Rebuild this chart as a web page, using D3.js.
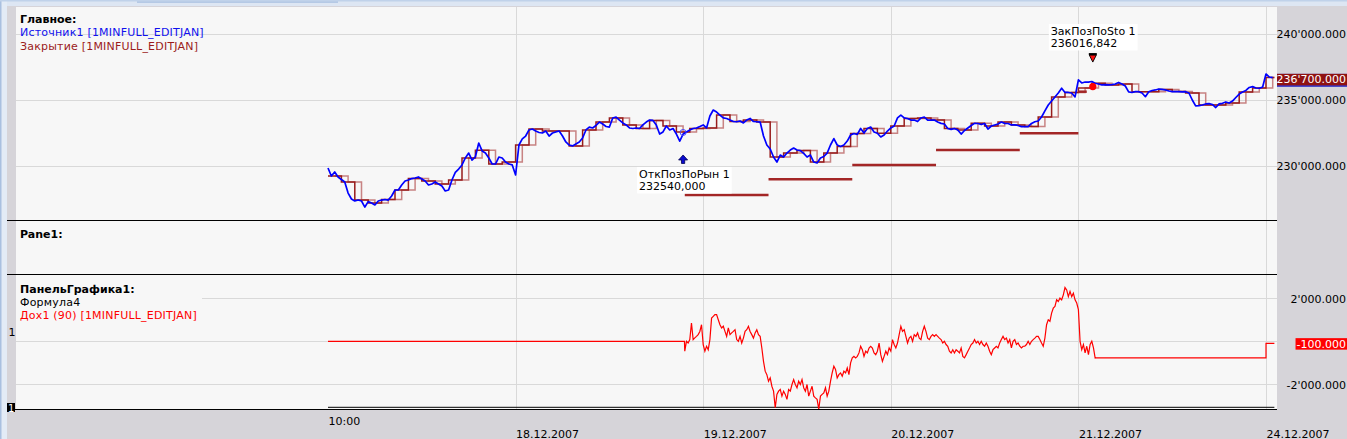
<!DOCTYPE html>
<html>
<head>
<meta charset="utf-8">
<script src="https://cdn.jsdelivr.net/npm/d3@7"></script>
<style>
body{margin:0;background:#d6d4d9;overflow:hidden}
svg{display:block;font-family:"DejaVu Sans",Verdana,sans-serif;font-size:11px}
</style>
</head>
<body>
<div id="chart"></div>
<script>
// ---- data (15-minute bars, 56 per session day, first bar 17.12.2007 10:00) ----
const barsPerDay = 56;
const dayTicks = [56, 112, 168, 224, 280];
const dayLabels = ["18.12.2007", "19.12.2007", "20.12.2007", "21.12.2007", "24.12.2007"];
const firstLabel = "10:00";

// Источник1
const source = [
229850,229240,229550,229170,228980,228790,227950,227500,227350,227420,
227350,226890,227300,227200,227050,227350,227420,227460,227420,227730,
228180,228180,228560,228860,228940,229050,229090,229170,229020,228860,
228560,228640,228790,228640,228480,228110,228180,228940,229510,229770,
230080,230610,230980,230450,230700,231740,231140,230980,230610,230150,
230150,230680,230610,230300,230150,230080,229320,231590,232050,232270,
232730,232800,232650,232540,232500,232650,232270,232500,232580,232650,
232270,231820,231590,231520,231670,231820,232120,232730,232950,232880,
233070,233330,233180,232990,232950,233640,233710,233480,233260,233110,
232880,232840,232880,232840,233110,233330,233480,233450,233110,232420,
232580,233030,232730,232840,232420,231890,232420,232580,232730,232840,
232880,232990,233110,232880,233790,234240,234090,233860,233640,233600,
233480,233370,233350,233410,233260,233480,233600,233370,233350,233330,
232270,231590,231290,230680,230300,230830,230680,230980,231210,231360,
231210,231170,230950,230680,230830,230300,230230,230610,230720,230980,
231590,232080,231590,231480,231590,231890,232350,232460,232390,232840,
232500,232840,232950,232580,232480,232200,232350,232650,232880,233030,
233640,233860,233640,233600,233480,233480,233370,233640,233710,233480,
233480,233480,233330,233230,233180,232840,232770,232840,232730,232420,
232690,232880,233070,233230,233220,233140,233220,232800,233030,233110,
233180,233330,233230,233220,233110,233110,233070,232980,232980,232990,
233220,233350,233410,233710,234170,234620,234920,235230,235530,235890,
235570,235570,235530,235230,236520,236290,236360,236360,236400,236270,
236210,236140,236170,236140,236170,236210,236330,236210,236060,235610,
235570,235630,235630,235530,235250,235630,235720,235760,235830,235800,
235760,235680,235630,235640,235630,235610,235630,235530,235000,234550,
234580,234620,234700,234730,234660,234430,234700,234750,234850,234770,
234920,235190,235450,235610,235720,235950,236010,235910,235890,235980,
236970,236740,236700];

// Закрытие, one value per hour (4 bars)
const closeHourly = [
229240,228790,227420,227200,227460,228180,229050,228860,228640,228940,
230610,231200,230150,230300,231590,232800,232650,232650,231520,232730,
233330,233640,233110,232840,233450,233030,232580,232840,232880,233860,
233370,233480,233330,230680,230980,231170,230300,230980,231480,232460,
232840,232480,233030,233600,233640,233480,232840,232730,233230,233030,
233330,233110,232990,233710,235230,235570,235900,236270,236140,236210,
235630,235630,235800,235640,235530,234620,234620,234770,235610,235910,
236700];
const barsPerClose = 4;

// stop levels
const stopFrom  = [106.5, 131.5, 156.5, 181.5, 206.5, 224];
const stopTo    = [131.5, 156.5, 181.5, 206.5, 224, 226.5];
const stopLevel = [227800, 229000, 230080, 231210, 232480, 235630];

// trades
const tradeNames = ["ОткПозПоРын 1", "ЗакПозПоSto 1"];
const tradeBar   = [106, 228.3];
const tradePrice = [232540, 236016.842];

// Дох1 (90): flat before entry, detailed half-bar samples, flat after exit
const pnlBefore = 0;
const pnlDetailFrom = 106.5;
const pnlDetailStep = 0.5;
const pnlDetail = [
-460,0,-80,80,850,80,160,230,310,460,
770,-150,-460,-230,-390,80,1080,1160,1240,1240,
1000,770,620,700,460,230,620,310,390,460,
540,80,0,230,-80,150,460,540,700,460,
310,150,390,540,310,230,-310,-930,-1390,-1550,
-1860,-1700,-2090,-2320,-3090,-2470,-2320,-2240,-2550,-2320,
-2470,-2700,-2240,-2320,-2010,-1780,-2010,-2160,-1860,-2010,
-1780,-2160,-2320,-2010,-2550,-2320,-2090,-2550,-2630,-2700,
-3150,-2550,-2470,-2400,-2160,-2550,-2320,-1860,-1470,-1160,
-1310,-1700,-1550,-1470,-1620,-1390,-1470,-1240,-1550,-1000,
-770,-700,-770,-700,-540,-230,-390,-700,-460,-540,
-310,-230,-310,-540,-620,-460,-80,-620,-930,-700,
-460,-620,-310,-460,80,-150,-310,-80,310,700,
460,540,230,-80,150,230,0,310,230,390,
150,80,460,700,460,150,80,230,310,230,
310,230,150,80,-80,0,-150,-230,-460,-540,
-390,-540,-390,-460,-540,-310,-700,-770,-620,-460,
-310,-150,-80,80,-80,0,-150,0,-150,-230,
-80,-230,-460,-620,-390,-310,-230,-310,-80,80,
230,80,150,-80,80,-310,0,80,-150,-80,
-230,-310,-230,-230,-150,0,-150,0,80,150,
230,230,80,-80,-230,150,770,1000,930,1310,
1540,1620,1930,1850,2010,1930,2160,2500,2390,2080,
2320,2080,2240,1930,1780,1470,0,-390,-150,-540,
-230,-620,-150,0,-310,-780];
const pnlAfterExit = -770;
const pnlLastBar = 280;
const pnlLast = -100;
const lastBar = 282.5;

// Формула4
const formula4 = -3070;

const priceTicks = [230000, 235000, 240000];
const pnlTicks = [-2000, 2000];
const pnlGrid = [-2000, 0, 2000];

// ---- layout ----
const W = 1347, H = 439;
const plotL = 16, plotR = 1277;
const mainTop = 7, mainBot = 220, pane1Top = 221, pane1Bot = 274, subTop = 275, subBot = 409;

const fmtAxis = d3.formatLocale({decimal: ".", thousands: "'", grouping: [3], currency: ["", ""], minus: "-"}).format(",.3f");
const fmtTrade = d3.formatLocale({decimal: ",", thousands: "", grouping: [3], currency: ["", ""], minus: "-"}).format(".3f");

const x = d3.scaleLinear().domain([0, 5 * barsPerDay]).range([328, 1266]);
const yMain = d3.scaleLinear().domain([225909, 242045]).range([mainBot, mainTop]);
const yPnl = d3.scaleLinear().domain([-3149, 3084]).range([subBot, subTop]);

const svg = d3.select("#chart").append("svg")
  .attr("width", W)
  .attr("height", H);

// window frame
svg.append("rect").attr("width", W).attr("height", H).attr("fill", "#d6d4d9");
svg.append("rect").attr("width", W).attr("height", 6).attr("fill", "#dde6f3");
svg.append("rect").attr("x", 137).attr("width", 201).attr("height", 3).attr("fill", "#b5c9e5");
svg.append("rect").attr("width", 7).attr("height", H).attr("fill", "#e3ebf6");
svg.append("rect").attr("width", 1.5).attr("height", H).attr("fill", "#a9c0e0");
svg.append("rect").attr("width", W).attr("height", 1.5).attr("fill", "#c0d2ea");

// pane backgrounds
[[mainTop, mainBot], [pane1Top, pane1Bot], [subTop, subBot]].forEach(function(p){
  svg.append("rect")
    .attr("x", plotL).attr("y", p[0])
    .attr("width", plotR - plotL).attr("height", p[1] - p[0])
    .attr("fill", "#f7f7f7");
});

// grid
const grid = svg.append("g").attr("stroke", "#d9d9d9").attr("stroke-width", 1);
grid.selectAll(".gv").data(dayTicks).enter().append("line")
  .attr("x1", d => Math.round(x(d)) + 0.5).attr("x2", d => Math.round(x(d)) + 0.5)
  .attr("y1", mainTop).attr("y2", subBot);
grid.selectAll(".gm").data(priceTicks).enter().append("line")
  .attr("x1", plotL).attr("x2", plotR)
  .attr("y1", d => Math.round(yMain(d)) + 0.5).attr("y2", d => Math.round(yMain(d)) + 0.5);
grid.selectAll(".gp").data(pnlGrid).enter().append("line")
  .attr("x1", plotL).attr("x2", plotR)
  .attr("y1", d => Math.round(yPnl(d)) + 0.5).attr("y2", d => Math.round(yPnl(d)) + 0.5);

// clips
const defs = svg.append("defs");
defs.append("clipPath").attr("id", "clipMain").append("rect")
  .attr("x", plotL).attr("y", mainTop).attr("width", plotR - plotL).attr("height", mainBot - mainTop);
defs.append("clipPath").attr("id", "clipSub").append("rect")
  .attr("x", plotL).attr("y", subTop).attr("width", plotR - plotL).attr("height", subBot - subTop);

// ---- main pane ----
const main = svg.append("g").attr("clip-path", "url(#clipMain)");

const closePts = closeHourly.map((v, k) => [k * barsPerClose, v]);
closePts.push([lastBar, closeHourly[closeHourly.length - 1]]);
const stepLine = d3.line().curve(d3.curveStepAfter).x(d => x(d[0])).y(d => yMain(d[1]));

main.append("path")
  .attr("d", stepLine(closePts.map(d => [Math.min(d[0] + barsPerClose / 2, lastBar), d[1]])))
  .attr("fill", "none").attr("stroke", "#bf6f6f").attr("stroke-opacity", 0.85).attr("stroke-width", 1.5);
main.append("path")
  .attr("d", stepLine(closePts))
  .attr("fill", "none").attr("stroke", "#981c1c").attr("stroke-width", 1.5);

main.append("path")
  .attr("d", d3.line().x((d, i) => x(i)).y(d => yMain(d))(source))
  .attr("fill", "none").attr("stroke", "#0000ff").attr("stroke-width", 1.7)
  .attr("stroke-linejoin", "round");

main.selectAll(".stop").data(stopLevel).enter().append("line")
  .attr("x1", (d, i) => x(stopFrom[i])).attr("x2", (d, i) => x(stopTo[i]))
  .attr("y1", d => yMain(d)).attr("y2", d => yMain(d))
  .attr("stroke", "#a32626").attr("stroke-width", 2.5);

// entry marker
const ex = x(tradeBar[0]), ey = yMain(tradePrice[0]);
main.append("circle").attr("cx", ex).attr("cy", ey).attr("r", 3)
  .attr("fill", "none").attr("stroke", "#4a4aff").attr("stroke-width", 1);
main.append("path")
  .attr("transform", "translate(" + ex + "," + (ey + 22.5) + ")")
  .attr("d", "M0,0L4.5,5L1.6,5L1.6,8.5L-1.6,8.5L-1.6,5L-4.5,5Z")
  .attr("fill", "#0b0bd0").attr("stroke", "#000050").attr("stroke-width", 0.8);

// exit marker
const qx = x(tradeBar[1]), qy = yMain(tradePrice[1]);
main.append("path")
  .attr("transform", "translate(" + qx + "," + (qy - 31.5) + ")")
  .attr("d", "M-3.5,0L3.5,0L0,7Z")
  .attr("fill", "#ff1010").attr("stroke", "#000").attr("stroke-width", 0.9);
main.append("rect").attr("x", qx - 4).attr("y", qy - 33.5).attr("width", 8).attr("height", 2).attr("fill", "#000");
main.append("circle").attr("cx", qx).attr("cy", qy).attr("r", 3.6).attr("fill", "#ff0000");

function tradeLabel(g, lx, ly, lines){
  const box = g.append("rect").attr("fill", "#ffffff");
  const t = g.append("g");
  lines.forEach(function(s, i){
    t.append("text").attr("x", lx).attr("y", ly + i * 12.5).attr("fill", "#000").text(s);
  });
  const bb = t.node().getBBox();
  box.attr("x", bb.x - 2).attr("y", bb.y - 1).attr("width", bb.width + 4).attr("height", bb.height + 1);
}
tradeLabel(main.append("g"), ex - 44, ey + 45.5, [tradeNames[0], fmtTrade(tradePrice[0])]);
tradeLabel(main.append("g"), qx - 42, qy - 51.6, [tradeNames[1], fmtTrade(tradePrice[1])]);

// ---- sub pane ----
const sub = svg.append("g").attr("clip-path", "url(#clipSub)");
const pnlPts = [[0, pnlBefore], [pnlDetailFrom - 0.1, pnlBefore]];
pnlDetail.forEach((v, k) => pnlPts.push([pnlDetailFrom + k * pnlDetailStep, v]));
const pnlEnd = pnlDetailFrom + (pnlDetail.length - 1) * pnlDetailStep;
pnlPts.push([pnlEnd + 0.2, pnlAfterExit], [pnlLastBar, pnlAfterExit], [pnlLastBar, pnlLast], [lastBar, pnlLast]);

sub.append("line")
  .attr("x1", x(0)).attr("x2", x(lastBar))
  .attr("y1", yPnl(formula4)).attr("y2", yPnl(formula4))
  .attr("stroke", "#000").attr("stroke-width", 1);
sub.append("path")
  .attr("d", d3.line().x(d => x(d[0])).y(d => yPnl(d[1]))(pnlPts))
  .attr("fill", "none").attr("stroke", "#ff0000").attr("stroke-width", 1.2);

// pane separators
svg.selectAll(".sep").data([mainBot, pane1Bot, subBot]).enter().append("line")
  .attr("x1", 7).attr("x2", plotR)
  .attr("y1", d => d + 0.5).attr("y2", d => d + 0.5)
  .attr("stroke", "#000").attr("stroke-width", 1);

// ---- axes ----
const yAxisMain = svg.append("g").attr("transform", "translate(1346,0)")
  .call(d3.axisLeft(yMain).tickValues(priceTicks).tickFormat(fmtAxis).tickSize(0).tickPadding(0));
const yAxisSub = svg.append("g").attr("transform", "translate(1346,0)")
  .call(d3.axisLeft(yPnl).tickValues(pnlTicks).tickFormat(fmtAxis).tickSize(0).tickPadding(0));
const xAxis = svg.append("g")
  .call(d3.axisBottom(x).tickValues(dayTicks).tickFormat((d, i) => dayLabels[i]).tickSize(0));
const xAxisFirst = svg.append("g")
  .call(d3.axisBottom(x).tickValues([0]).tickFormat(() => firstLabel).tickSize(0));

[yAxisMain, yAxisSub, xAxis, xAxisFirst].forEach(function(a){
  a.attr("font-family", null).attr("font-size", null);
  a.select(".domain").remove();
  a.selectAll("text").attr("fill", "#000");
});
[yAxisMain, yAxisSub].forEach(function(a){ a.selectAll("text").attr("dy", "0.36em"); });
xAxis.selectAll("text").attr("text-anchor", "start").attr("y", 437.5).attr("dy", null);
xAxisFirst.selectAll("text").attr("text-anchor", "start").attr("y", 425).attr("dy", null);

// last value boxes
function valueBox(yv, fill, value, underColor, left){
  const g = svg.append("g");
  const t = g.append("text").attr("x", 1346).attr("y", yv + 4).attr("text-anchor", "end")
    .attr("fill", "#fff").text(fmtAxis(value));
  const bb = t.node().getBBox();
  const bx = left || bb.x - 1;
  if (underColor) {
    g.insert("rect", "text").attr("x", bx).attr("y", yv - 5.5)
      .attr("width", W - bx).attr("height", 13).attr("fill", underColor);
  }
  g.insert("rect", "text").attr("x", bx).attr("y", yv - 5.5)
    .attr("width", W - bx).attr("height", 11.5).attr("fill", fill);
}
valueBox(yMain(closeHourly[closeHourly.length - 1]) + 1.8, "#8f1212", closeHourly[closeHourly.length - 1], "#3535c8", plotR);
valueBox(yPnl(pnlLast) + 0.2, "#ff0000", pnlLast);

// ---- legends ----
const leg = svg.append("g");
leg.append("rect").attr("x", plotL).attr("y", 281).attr("width", 186).attr("height", 42).attr("fill", "#f7f7f7");
function legText(lx, ly, s, color, bold){
  leg.append("text").attr("x", lx).attr("y", ly).attr("fill", color)
    .attr("font-weight", bold ? "bold" : null)
    .attr("letter-spacing", bold ? null : "0.2px").text(s);
}
legText(20, 23, "Главное:", "#000", true);
legText(20, 36, "Источник1 [1MINFULL_EDITJAN]", "#1010ee", false);
legText(20, 49.5, "Закрытие [1MINFULL_EDITJAN]", "#9b1b1b", false);
legText(20, 238, "Pane1:", "#000", true);
legText(20, 292.5, "ПанельГрафика1:", "#000", true);
legText(20, 305.5, "Формула4", "#000", false);
legText(20, 319, "Дох1 (90) [1MINFULL_EDITJAN]", "#ff0000", false);
legText(8.5, 335.5, "1", "#000", false);

svg.append("rect").attr("x", 7).attr("y", 403).attr("width", 8).attr("height", 9).attr("fill", "#000");
svg.append("text").attr("x", 8).attr("y", 411.5).attr("fill", "#fff").attr("font-size", "10px").text("1");
</script>
</body>
</html>
